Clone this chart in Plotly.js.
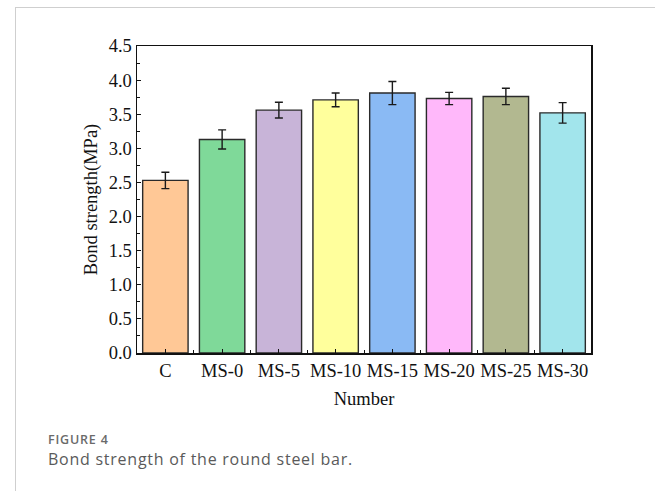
<!DOCTYPE html>
<html>
<head>
<meta charset="utf-8">
<script src="https://cdn.plot.ly/plotly-3.0.1.min.js"></script>
<style>
  html, body { margin: 0; padding: 0; background: #fff; }
  #wrap { position: relative; width: 655px; height: 491px; overflow: hidden; }
  #frame { position: absolute; left: 15px; top: 7px; width: 660px; height: 500px;
           border-left: 1.5px solid #cfcfcf; border-top: 1.5px solid #cfcfcf; }
  #chart { position: absolute; left: 0; top: 0; width: 655px; height: 491px; }
  #figlabel { position: absolute; left: 48px; top: 432.5px; font-family: "Open Sans", sans-serif;
              font-size: 12.5px; font-weight: 600; letter-spacing: 0.8px; color: #6a6a6a; line-height: 13px; }
  #caption { position: absolute; left: 48px; top: 450px; font-family: "Open Sans", sans-serif;
             font-size: 16px; letter-spacing: 0.75px; color: #5a5a5a; line-height: 18px; }
</style>
</head>
<body>
<div id="wrap">
  <div id="frame"></div>
  <div id="chart"></div>
  <div id="figlabel">FIGURE 4</div>
  <div id="caption">Bond strength of the round steel bar.</div>
</div>
<script>
const categories = ["C", "MS-0", "MS-5", "MS-10", "MS-15", "MS-20", "MS-25", "MS-30"];
const bondStrength = [2.53, 3.13, 3.56, 3.71, 3.81, 3.73, 3.76, 3.52];
const errorValues = [0.12, 0.14, 0.115, 0.10, 0.17, 0.09, 0.12, 0.15];
const barColors = ["#FFC896", "#7FD999", "#C8B4D8", "#FFFF9C", "#8ABAF4", "#FFB8FA", "#B2B890", "#A2E5EC"];

const xIdx = categories.map((_, i) => i);

const trace = {
  type: "bar",
  x: xIdx,
  y: bondStrength,
  width: 0.8,
  marker: { color: barColors, line: { color: "#2a2a2a", width: 1.4 } },
  error_y: { type: "data", array: errorValues, visible: true, color: "#1a1a1a", thickness: 1.4, width: 4 },
  hoverinfo: "skip"
};

const serif = "'Liberation Serif', 'Times New Roman', serif";
const fs = 18.5;

const layout = {
  width: 655, height: 491,
  margin: { l: 137, r: 64, t: 46, b: 138 },
  paper_bgcolor: "rgba(0,0,0,0)",
  plot_bgcolor: "rgba(0,0,0,0)",
  showlegend: false,
  font: { family: serif, size: fs, color: "#111" },
  xaxis: {
    range: [-0.5, 7.5],
    tickmode: "array",
    tickvals: xIdx,
    ticktext: categories,
    ticks: "inside", ticklen: 4, tickwidth: 1, tickcolor: "#111",
    minor: { tickmode: "linear", tick0: -0.5, dtick: 1, ticks: "inside", ticklen: 3, tickcolor: "#111" },
    showline: true, linecolor: "#111", linewidth: 1.5, mirror: true,
    showgrid: false, zeroline: false,
    tickfont: { family: serif, size: fs, color: "#111" },
    title: { text: "Number", font: { family: serif, size: fs, color: "#111" }, standoff: 12 }
  },
  yaxis: {
    range: [0, 4.5],
    dtick: 0.5, tick0: 0, tickformat: ".1f",
    ticks: "inside", ticklen: 4, tickwidth: 1, tickcolor: "#111",
    minor: { dtick: 0.25, ticks: "inside", ticklen: 2.5, tickcolor: "#111" },
    showline: true, linecolor: "#111", linewidth: 1.5, mirror: true,
    showgrid: false, zeroline: false,
    tickfont: { family: serif, size: fs, color: "#111" },
    title: { text: "Bond strength(MPa)", font: { family: serif, size: fs, color: "#111" }, standoff: 6 }
  }
};

Plotly.newPlot("chart", [trace], layout, { displayModeBar: false, staticPlot: true });
</script>
</body>
</html>
